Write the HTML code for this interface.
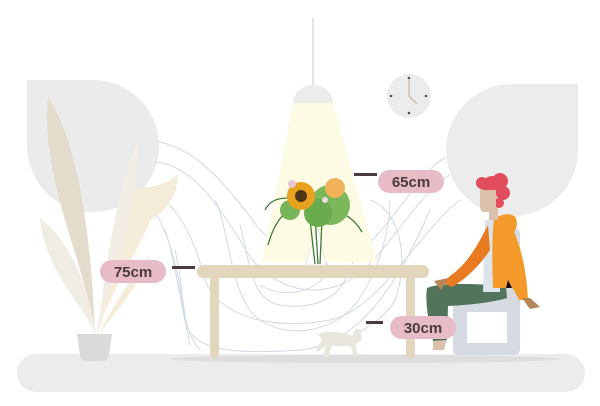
<!DOCTYPE html>
<html><head><meta charset="utf-8"><style>
html,body{margin:0;padding:0;background:#fff;width:600px;height:406px;overflow:hidden}
svg{display:block}
text{font-family:"Liberation Sans",sans-serif;font-weight:bold;font-size:15px;fill:#4a3b3f}
</style></head><body>
<svg width="600" height="406" viewBox="0 0 600 406" xmlns="http://www.w3.org/2000/svg">
<rect x="17" y="354" width="568" height="38" rx="19" fill="#ececec"/>
<path d="M27,80 H93 A66,66 0 1 1 27,146 Z" fill="#ebebeb"/>
<path d="M578,84 H512 A66,66 0 1 0 578,150 Z" fill="#ececec"/>
<circle cx="409" cy="96" r="22" fill="#ececec"/>
<circle cx="409" cy="78" r="1.3" fill="#555"/><circle cx="409" cy="113" r="1.3" fill="#555"/>
<circle cx="391" cy="96" r="1.3" fill="#555"/><circle cx="426" cy="96" r="1.3" fill="#555"/>
<path d="M409,80 V96 L417,104" stroke="#c9bfa8" stroke-width="1.5" fill="none"/>
<g fill="none" stroke="#d3d9e4" stroke-width="1">
<path d="M159,142 C200,150 230,190 260,230 C290,260 330,270 360,250 C390,230 420,170 445,158"/>
<path d="M155,162 C190,165 215,200 240,240 C260,280 300,300 340,285 C380,270 410,200 450,175"/>
<path d="M145,192 C175,195 195,240 205,280 C220,320 280,330 330,320 C380,310 420,230 460,200"/>
<path d="M150,205 C170,230 180,280 185,320 C190,350 230,355 300,350 C360,345 400,280 430,210"/>
<path d="M165,230 C175,260 180,300 190,345"/>
<path d="M215,200 C230,230 230,300 260,320 C290,340 330,330 350,310 C370,290 390,240 390,200"/>
<path d="M240,225 C250,260 250,300 280,305 C310,310 335,300 345,280 C360,255 360,220 350,200"/>
<path d="M260,285 C275,295 300,295 315,285 C330,275 330,260 320,250"/>
<path d="M175,250 C185,290 180,330 200,350"/>
<path d="M370,200 C400,210 410,260 395,300 C385,320 360,330 350,340"/>
</g>
<line x1="313" y1="18" x2="313" y2="86" stroke="#e4e4e4" stroke-width="2"/>
<path d="M293,103 L333,103 L377,262 L262,262 Z" fill="#fdfbe3"/>
<path d="M293,103 A20,18 0 0 1 333,103 Z" fill="#ececec"/>
<path d="M48,97 C70,130 90,200 95,335 C85,260 40,180 48,97 Z" fill="#e3dccd"/>
<path d="M40,218 C70,240 90,290 96,335 C80,300 45,270 40,218Z" fill="#f1ece4"/>
<path d="M178,174 C150,200 125,170 120,220 C115,260 100,300 97,335 C110,290 140,250 150,220 C170,210 178,190 178,174Z" fill="#f6ecda"/>
<path d="M138,140 C120,180 105,260 98,335 C115,260 140,200 138,140Z" fill="#f3eee5"/>
<path d="M150,255 C130,280 110,310 99,335 C120,305 140,285 150,255Z" fill="#f6ecda"/>
<path d="M77,334 H112 L109,356 Q108,361 102,361 H87 Q81,361 80,356 Z" fill="#dadada"/>
<ellipse cx="365" cy="359" rx="195" ry="4" fill="#dedcdc"/>
<rect x="197" y="265" width="232" height="13" rx="6.5" fill="#e2d6bd"/>
<rect x="210" y="270" width="9" height="88" rx="4" fill="#e2d6bd"/>
<rect x="406" y="270" width="9" height="88" rx="4" fill="#e2d6bd"/>
<g>
<path d="M305,265 L318,228 L326,265 Z" fill="#fff" stroke="#e8e8e8"/>
<g stroke="#3f7a3a" stroke-width="1.3" fill="none">
<path d="M315,264 L310,220"/><path d="M320,264 L322,220"/><path d="M318,264 L315,215"/>
<path d="M300,205 C285,210 275,220 268,245"/><path d="M330,210 C345,212 355,220 362,232"/>
<path d="M300,200 C280,195 270,200 265,210"/>
</g>
<circle cx="330" cy="205" r="20" fill="#7bb85a"/>
<circle cx="318" cy="213" r="14" fill="#6aab4e"/>
<circle cx="335" cy="188" r="10" fill="#f1b25a"/>
<circle cx="290" cy="210" r="10" fill="#78b45a"/>
<circle cx="301" cy="196" r="14" fill="#e8a220"/>
<circle cx="301" cy="196" r="6" fill="#4d3517"/>
<circle cx="292" cy="184" r="4" fill="#e8c5d5"/>
<circle cx="325" cy="200" r="3" fill="#f0dbe5"/>
</g>
<path d="M318,334 C325,330 345,332 352,336 L356,328 L361,330 L362,340 L356,344 L357,357 L354,357 L351,346 L332,346 L328,357 L324,357 L325,346 L318,352 L316,350 L322,340 Z" fill="#e8e6df"/>
<!-- chair -->
<rect x="506" y="228" width="14" height="80" rx="6" fill="#d5dbe1"/>
<path d="M458,298 H514 Q520,298 520,304 V349 Q520,355 514,355 H459 Q453,355 453,349 V304 Q453,298 458,298 Z M467,312 V343 H507 V312 Z" fill="#d5dbe1" fill-rule="evenodd"/>
<!-- person -->
<path d="M433,337 L447,337 L444,350 L433,350 Z" fill="#dcc2ac"/>
<path d="M427,288 C440,282 480,284 506,286 L507,298 C495,302 470,305 448,306 L447,340 L433,341 C428,320 425,300 427,288 Z" fill="#52745b"/>
<path d="M485,220 L500,218 L500,292 L483,292 Z" fill="#dde3ea"/>
<path d="M494,219 C500,214 512,212 516,218 C518,224 516,230 514,232 C522,250 527,275 528,300 L519,300 C517,295 514,290 508,282 L506,288 L493,288 C492,260 492,235 494,219 Z" fill="#f39a2a"/>
<path d="M488,225 C480,240 470,262 450,276 L443,283 L452,287 C468,278 482,262 490,250 Z" fill="#e87b22"/>
<path d="M508,280 L512,288 L506,288 Z" fill="#111"/>
<path d="M522,298 L530,298 L540,307 L530,309 Z" fill="#b5865a"/>
<path d="M434,281 L448,278 L441,290 Z" fill="#b5865a"/>
<rect x="489" y="206" width="9" height="14" fill="#dcc2ac"/>
<path d="M480,188 H497 V212 H484 Q480,212 480,206 Z" fill="#dcc2ac"/>
<circle cx="492" cy="186" r="10" fill="#e24d5c"/>
<circle cx="500" cy="181" r="8" fill="#e24d5c"/>
<circle cx="503" cy="193" r="7" fill="#e24d5c"/>
<circle cx="482" cy="183" r="6" fill="#e24d5c"/>
<circle cx="499" cy="203" r="5" fill="#e24d5c"/>
<rect x="481" y="190" width="15" height="20" fill="#dcc2ac"/>
<rect x="172" y="266" width="23" height="3" fill="#4a3b3f"/>
<rect x="100" y="260" width="66" height="23" rx="11.5" fill="#e8bcc6"/>
<text x="133" y="277" text-anchor="middle">75cm</text>
<rect x="354" y="173" width="23" height="3" fill="#4a3b3f"/>
<rect x="378" y="170" width="66" height="23" rx="11.5" fill="#e8bcc6"/>
<text x="411" y="187" text-anchor="middle">65cm</text>
<rect x="366" y="321" width="17" height="3" fill="#4a3b3f"/>
<rect x="390" y="316" width="66" height="23" rx="11.5" fill="#e8bcc6"/>
<text x="423" y="333" text-anchor="middle">30cm</text>
</svg>
</body></html>
